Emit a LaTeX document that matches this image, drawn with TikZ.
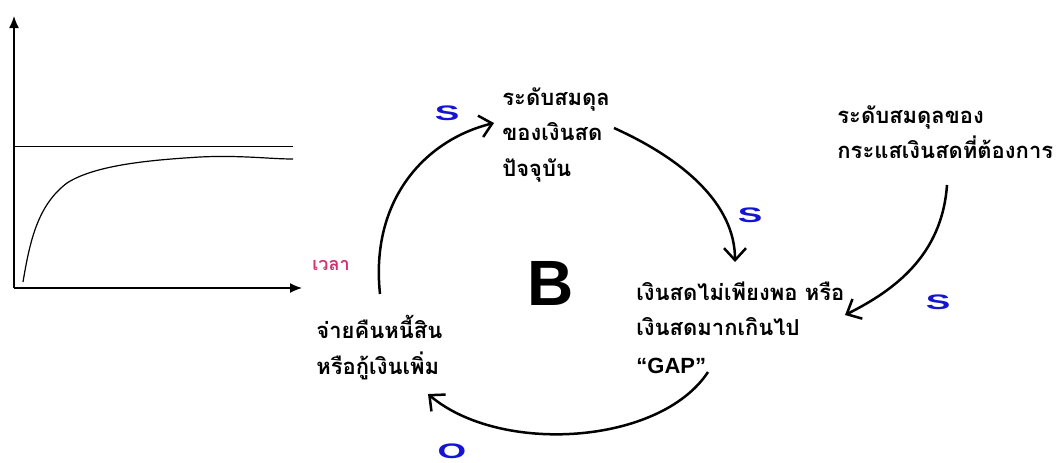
\documentclass[tikz,border=0pt]{standalone}
\usepackage{fontspec}
\usetikzlibrary{arrows.meta}
\newfontfamily\thaifont[Script=Thai]{Loma}
\setsansfont{Liberation Sans}
\definecolor{sblue}{RGB}{20,20,210}
\definecolor{tpink}{RGB}{210,48,110}
\tikzset{
  txt/.style={font=\thaifont\bfseries\fontsize{11}{17.8}\selectfont, align=left, inner sep=0pt, anchor=north west},
  pol/.style={font=\sffamily\bfseries\fontsize{10.5}{10}\selectfont, text=sblue, xscale=1.75, inner sep=0pt},
  link/.style={line width=1.25pt, -{Straight Barb[length=6pt,width=11pt,line width=1.25pt]}},
  axis/.style={line width=0.7pt, -{Latex[length=6pt,width=5pt]}}
}
\begin{document}
\begin{tikzpicture}[x=0.5pt,y=-0.5pt]
\useasboundingbox (0,0) rectangle (1064,462);
% graph
\draw[axis] (14,288) -- (14,16);
\draw[axis] (14,288) -- (302,288);
\draw[line width=0.5pt] (14,146) -- (293,146);
\draw[line width=0.6pt] (23,282) .. controls (30,240) and (38,205) .. (67,183)
  .. controls (95,165) and (150,160) .. (200,157) .. controls (240,155) and (270,159) .. (293,159);
\node[font=\thaifont\bfseries\fontsize{9}{9}\selectfont, text=tpink, inner sep=0pt] (time) at (331,265) {เวลา};
% nodes
\node[txt] (cur) at (502,87) {\bfseries ระดับสมดุล\\\bfseries ของเงินสด\\\bfseries ปัจจุบัน};
\node[txt] (gap) at (636,281) {\bfseries เงินสดไม่เพียงพอ หรือ\\\bfseries เงินสดมากเกินไป\\[1pt]\sffamily\bfseries “GAP”};
\node[txt] (des) at (837,105) {\bfseries ระดับสมดุลของ\\\bfseries กระแสเงินสดที่ต้องการ};
\node[txt] (pay) at (316,315) {\bfseries จ่ายคืนหนี้สิน\\\bfseries หรือกู้เงินเพิ่ม};
\node[font=\sffamily\bfseries\fontsize{32}{32}\selectfont, inner sep=0pt] (B) at (551,283) {B};
% connectors
\draw[link] ([shift={(64,-21)}]pay.north west) .. controls (370,200) and (425,140) .. ([shift={(-8,36)}]cur.north west);
\draw[link] ([shift={(112,41)}]cur.north west) .. controls (685,160) and (735,205) .. ([shift={(99,-19)}]gap.north west);
\draw[link] ([shift={(110,80)}]des.north west) .. controls (942,255) and (895,290) .. ([shift={(209,34)}]gap.north west);
\draw[link] ([shift={(72,91)}]gap.north west) .. controls (660,445) and (500,455) .. ([shift={(112,79)}]pay.north west);
% polarity labels
\node[pol] (s1) at (447,113) {S};
\node[pol] (s2) at (750,215) {S};
\node[pol] (s3) at (938,302) {S};
\node[pol] (o1) at (452,451) {O};
\end{tikzpicture}
\end{document}
